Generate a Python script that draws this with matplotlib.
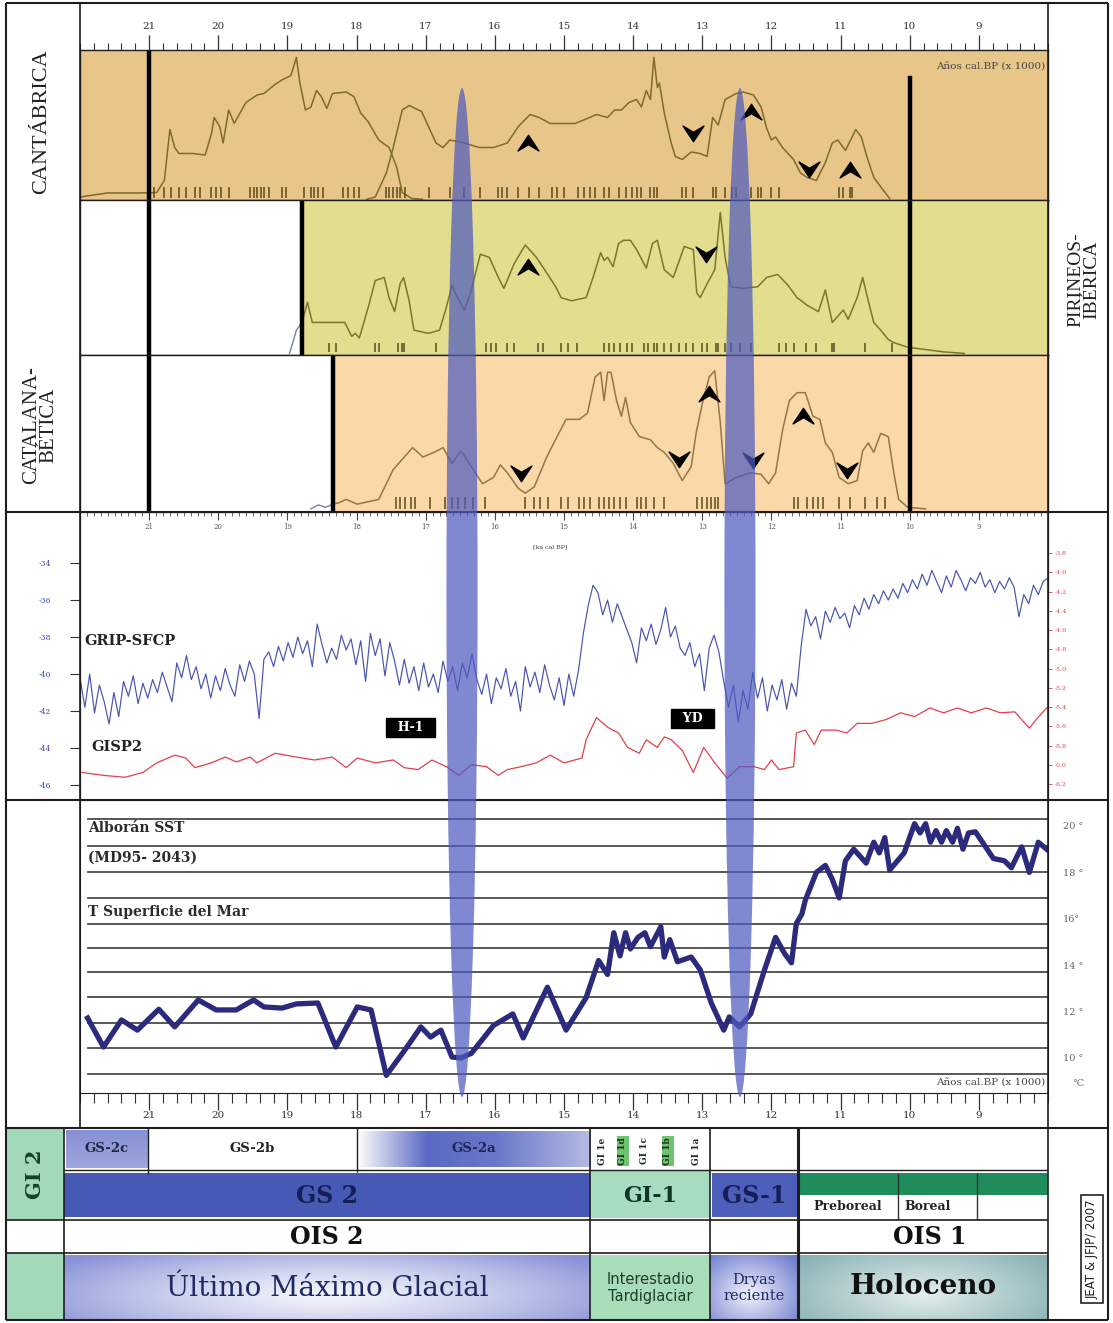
import numpy as np
import matplotlib
matplotlib.use("Agg")
import matplotlib.pyplot as plt
import matplotlib.transforms as mtransforms
from matplotlib.patches import Ellipse, Rectangle
from matplotlib.path import Path
from matplotlib.colors import to_rgb
from matplotlib.ticker import FixedLocator, MultipleLocator

# ---------------------------------------------------------------- data
age_ticks = list(range(9, 22))

# Cantábrica: two summed-probability curves (height as fraction of panel)
cant_a_ka = [22.0, 21.6, 21.15, 20.89, 20.78, 20.70, 20.63, 20.57, 20.37, 20.19,
             20.10, 20.06, 19.98, 19.93, 19.85, 19.77, 19.60, 19.44, 19.34, 19.18,
             19.08, 18.95, 18.87, 18.82, 18.74, 18.66, 18.58, 18.51, 18.43, 18.35,
             18.15, 18.04, 17.94, 17.83, 17.68, 17.53, 17.42, 17.34, 17.20, 17.05]
cant_a_h = [0.02, 0.047, 0.047, 0.05, 0.13, 0.47, 0.35, 0.31, 0.31, 0.30,
            0.44, 0.55, 0.49, 0.38, 0.60, 0.51, 0.65, 0.70, 0.71, 0.77,
            0.80, 0.83, 0.95, 0.78, 0.60, 0.62, 0.73, 0.69, 0.61, 0.71,
            0.72, 0.69, 0.58, 0.52, 0.40, 0.35, 0.22, 0.05, 0.01, 0.005]
cant_b_ka = [17.85, 17.73, 17.57, 17.47, 17.34, 17.24, 17.06,
             16.85, 16.75, 16.65, 16.44, 16.23, 16.02,
             15.82, 15.66, 15.49, 15.36, 15.20,
             14.84, 14.63, 14.53, 14.37, 14.27, 14.17, 14.06,
             13.95, 13.88, 13.81, 13.75, 13.70, 13.65, 13.62, 13.55, 13.45, 13.39, 13.29, 13.16, 13.03,
             12.93, 12.85, 12.77, 12.67, 12.59, 12.51, 12.41, 12.26, 12.15, 12.07, 12.00,
             11.94, 11.84, 11.68, 11.58, 11.48, 11.35, 11.22, 11.12, 11.04,
             10.93, 10.78, 10.70, 10.62, 10.52, 10.39, 10.29]
cant_b_h = [0.005, 0.02, 0.18, 0.35, 0.60, 0.63, 0.59,
            0.38, 0.35, 0.40, 0.38, 0.35, 0.35,
            0.38, 0.49, 0.57, 0.55, 0.51,
            0.51, 0.55, 0.57, 0.55, 0.60, 0.60, 0.65,
            0.67, 0.62, 0.73, 0.67, 0.95, 0.75, 0.78, 0.58, 0.38, 0.29, 0.27, 0.32, 0.31,
            0.29, 0.55, 0.50, 0.67, 0.69, 0.71, 0.72, 0.70, 0.62, 0.48, 0.40,
            0.42, 0.35, 0.27, 0.18, 0.15, 0.13, 0.25, 0.38, 0.40,
            0.33, 0.47, 0.42, 0.29, 0.15, 0.07, 0.01]
cant_dates = [20.93, 20.78, 20.68, 20.57, 20.47, 20.34, 20.26, 20.11, 20.03, 19.96,
              19.85, 19.54, 19.49, 19.44, 19.38, 19.34, 19.26, 19.08, 19.02, 18.76,
              18.66, 18.61, 18.56, 18.48, 18.20, 18.12, 18.04, 17.96, 17.57, 17.53,
              17.47, 17.42, 17.37, 17.30, 16.95, 16.65, 16.44, 16.21, 15.95, 15.89,
              15.82, 15.66, 15.51, 15.36, 15.17, 15.10, 15.00, 14.80, 14.71, 14.63,
              14.55, 14.42, 14.35, 14.21, 14.11, 14.01, 13.95, 13.88, 13.75, 13.70,
              13.65, 13.29, 13.23, 13.13, 12.85, 12.80, 12.67, 12.57, 12.51, 12.30,
              12.20, 12.15, 12.00, 11.89, 11.02, 10.96, 10.86, 10.83]
cant_up = ([15.52, 12.30, 10.86], [0.38, 0.59, 0.20])
cant_down = ([13.13, 11.46], [0.45, 0.21])

# Pirineos-Ibérica
pir_start = 18.79
pir_pre_ka = [18.97, 18.87, 18.79]
pir_pre_h = [0.01, 0.16, 0.21]
pir_ka = [18.79, 18.71, 18.64, 18.51, 18.30, 18.17, 18.07, 18.02, 17.96, 17.83,
          17.73, 17.60, 17.53, 17.45, 17.37, 17.32, 17.24, 17.17, 16.96, 16.80,
          16.70, 16.62, 16.54, 16.44, 16.34, 16.21, 16.08, 15.95, 15.87, 15.72,
          15.56, 15.40, 15.25, 15.12, 15.04, 14.89, 14.68, 14.58, 14.47, 14.42,
          14.37, 14.29, 14.21, 14.14, 14.04, 13.95, 13.81, 13.72, 13.65, 13.55,
          13.42, 13.26, 13.13, 13.08, 13.03, 12.93, 12.82, 12.74, 12.67, 12.59,
          12.41, 12.20, 12.07, 11.91, 11.76, 11.63, 11.48, 11.32, 11.22, 11.12,
          11.04, 10.96, 10.89, 10.76, 10.68, 10.60, 10.52, 10.42, 10.31, 10.23,
          10.03, 9.51, 9.21]
pir_h = [0.21, 0.34, 0.21, 0.21, 0.21, 0.21, 0.12, 0.14, 0.11, 0.31,
         0.48, 0.50, 0.37, 0.28, 0.46, 0.50, 0.35, 0.16, 0.14, 0.16,
         0.31, 0.45, 0.37, 0.29, 0.42, 0.65, 0.63, 0.50, 0.43, 0.59,
         0.71, 0.63, 0.53, 0.44, 0.37, 0.35, 0.37, 0.50, 0.66, 0.61,
         0.63, 0.57, 0.72, 0.74, 0.74, 0.68, 0.56, 0.72, 0.74, 0.55,
         0.50, 0.70, 0.68, 0.40, 0.37, 0.46, 0.55, 0.92, 0.63, 0.44,
         0.43, 0.44, 0.50, 0.52, 0.45, 0.37, 0.32, 0.28, 0.42, 0.21,
         0.25, 0.29, 0.23, 0.37, 0.50, 0.35, 0.21, 0.16, 0.10, 0.08,
         0.05, 0.02, 0.01]
pir_dates = [18.77, 18.40, 18.30, 17.73, 17.68, 17.40, 17.34, 17.32, 16.85, 16.13,
             16.05, 15.98, 15.82, 15.72, 15.38, 15.30, 15.04, 14.94, 14.81, 14.42,
             14.35, 14.27, 14.19, 14.09, 14.01, 13.85, 13.78, 13.70, 13.65, 13.55,
             13.45, 13.34, 13.23, 13.13, 13.00, 12.93, 12.80, 12.77, 12.67, 12.59,
             12.46, 12.30, 11.89, 11.79, 11.68, 11.50, 11.35, 11.12, 11.09, 10.65, 10.26]
pir_up = ([15.52], [0.57])
pir_down = ([12.95], [0.65])

# Catalana-Bética
cat_start = 18.34
cat_pre_ka = [18.66, 18.55, 18.45, 18.34]
cat_pre_h = [0.02, 0.045, 0.03, 0.05]
cat_ka = [18.34, 18.25, 18.15, 17.99, 17.68, 17.47, 17.19, 17.04, 16.88, 16.75,
          16.62, 16.49, 16.34, 16.18, 16.02, 15.92, 15.82, 15.66, 15.56, 15.43,
          15.25, 15.10, 14.97, 14.78, 14.66, 14.55, 14.47, 14.42, 14.37, 14.32,
          14.24, 14.17, 14.11, 14.04, 13.91, 13.75, 13.65, 13.55, 13.42, 13.29,
          13.16, 13.09, 13.00, 12.90, 12.82, 12.74, 12.67, 12.51, 12.30, 12.15,
          12.04, 11.94, 11.84, 11.74, 11.63, 11.51, 11.40, 11.30, 11.22, 11.12,
          11.02, 10.89, 10.76, 10.68, 10.60, 10.52, 10.42, 10.31, 10.23, 10.16,
          10.03, 9.77]
cat_h = [0.05, 0.06, 0.08, 0.05, 0.08, 0.27, 0.41, 0.35, 0.38, 0.41,
         0.31, 0.39, 0.29, 0.18, 0.22, 0.30, 0.25, 0.15, 0.12, 0.16,
         0.35, 0.48, 0.59, 0.59, 0.63, 0.86, 0.89, 0.71, 0.89, 0.89,
         0.71, 0.61, 0.73, 0.57, 0.48, 0.46, 0.41, 0.38, 0.31, 0.20,
         0.29, 0.50, 0.69, 0.86, 0.90, 0.57, 0.18, 0.22, 0.25, 0.24,
         0.18, 0.25, 0.52, 0.71, 0.76, 0.76, 0.61, 0.59, 0.44, 0.38,
         0.22, 0.18, 0.20, 0.39, 0.44, 0.38, 0.50, 0.48, 0.25, 0.08,
         0.03, 0.02]
cat_dates = [17.43, 17.37, 17.30, 17.22, 17.15, 16.94, 16.72, 16.62, 16.53, 16.43,
             16.31, 16.14, 15.56, 15.44, 15.34, 15.23, 15.04, 14.94, 14.78, 14.71,
             14.63, 14.50, 14.42, 14.35, 14.27, 14.19, 14.11, 13.95, 13.88, 13.81,
             13.70, 13.55, 13.08, 13.00, 12.93, 12.87, 12.82, 12.77, 11.68, 11.61,
             11.48, 11.40, 11.32, 11.25, 11.02, 10.86, 10.65, 10.47, 10.36]
cat_up = ([12.90, 11.55], [0.75, 0.61])
cat_down = ([15.62, 13.34, 12.27, 10.91], [0.25, 0.34, 0.33, 0.27])

# chronological limits of the regional series
limit_old = 21.0
limit_young = 10.0

# GRIP-SFCP (left axis, per mil) on a regular 70-yr grid
grip_ka = np.round(np.arange(22.0, 7.99, -0.07), 2)
grip_d18o = [
    -40.2, -41.8, -40.0, -42.1, -40.6, -41.5, -42.7, -41.0, -42.3, -40.4, -41.2, -40.1, -41.6, -40.5, -41.3,
    -40.3, -41.0, -39.9, -40.7, -41.5, -39.4, -40.2, -39.0, -40.3, -39.6, -40.8, -40.0, -41.3, -40.1,
    -40.9, -39.7, -40.6, -41.2, -39.5, -40.4, -39.3, -40.0, -42.4, -39.2, -38.8, -39.6, -38.5, -39.3,
    -38.3, -39.1, -38.0, -38.9, -38.2, -39.6, -37.3, -38.4, -39.4, -38.6, -39.2, -37.9, -38.7, -38.1,
    -39.5, -38.2, -40.4, -37.8, -39.0, -38.1, -40.1, -38.3, -39.3, -40.6, -39.2, -40.5, -39.6, -40.9,
    -39.4, -40.7, -40.0, -41.0, -39.3, -40.4, -39.6, -40.9, -39.4, -40.2, -38.9, -40.3, -41.1, -40.0,
    -41.6, -40.2, -40.8, -39.7, -41.2, -40.4, -42.0, -39.6, -40.7, -39.9, -41.0, -39.5, -40.6, -41.4,
    -40.2, -41.7, -40.0, -41.2, -39.8, -37.8, -36.3, -35.2, -35.6, -36.8, -36.0, -37.2, -36.2, -36.9,
    -37.6, -38.3, -39.4, -37.5, -38.2, -37.3, -38.4, -37.6, -36.4, -38.0, -37.4, -38.6, -39.0, -38.3,
    -39.6, -38.9, -40.9, -38.6, -37.9, -38.8, -40.4, -41.8, -40.6, -42.6, -40.9, -41.9, -39.9, -41.3,
    -40.2, -42.0, -40.6, -41.4, -40.3, -41.9, -40.5, -41.2, -38.5, -36.5, -37.4, -36.9, -38.1, -36.6,
    -37.2, -36.4, -37.0, -36.7, -37.5, -36.3, -36.8, -35.9, -36.5, -35.7, -36.2, -35.5, -36.0, -35.4,
    -35.9, -35.1, -35.6, -34.9, -35.4, -34.6, -35.2, -34.4, -35.0, -35.6, -34.7, -35.3, -34.4, -34.9,
    -35.5, -34.8, -35.1, -34.5, -35.3, -34.9, -35.6, -35.0, -35.4, -34.8, -35.3, -36.9, -35.7, -36.2,
    -35.2, -35.7, -35.0, -34.8]
grip_ticks = [-34, -36, -38, -40, -42, -44, -46]

# GISP2 (right axis)
gisp_ka = [21.97, 21.66, 21.35, 21.09, 20.89, 20.63, 20.47, 20.34, 20.10, 19.90,
           19.74, 19.54, 19.44, 19.18, 18.87, 18.61, 18.35, 18.15, 17.99, 17.73,
           17.47, 17.31, 17.11, 16.91, 16.70, 16.52, 16.34, 16.12, 15.95, 15.82,
           15.62, 15.40, 15.20, 15.00, 14.74, 14.68, 14.53, 14.37, 14.21, 14.08,
           13.91, 13.81, 13.65, 13.55, 13.45, 13.29, 13.13, 12.98, 12.82, 12.64,
           12.46, 12.25, 12.10, 12.00, 11.89, 11.68, 11.64, 11.51, 11.38, 11.28,
           11.06, 10.91, 10.76, 10.55, 10.34, 10.13, 9.93, 9.71, 9.51, 9.31,
           9.11, 8.89, 8.69, 8.48, 8.27, 8.17, 8.02]
gisp_val = [-6.08, -6.11, -6.13, -6.08, -5.98, -5.90, -5.93, -6.03, -5.98, -5.92,
            -5.97, -5.92, -5.98, -5.88, -5.92, -5.95, -5.92, -6.03, -5.93, -5.98,
            -5.95, -6.03, -6.05, -5.95, -6.02, -6.11, -6.00, -6.02, -6.11, -6.05,
            -6.02, -5.98, -5.90, -5.98, -5.93, -5.74, -5.51, -5.61, -5.67, -5.82,
            -5.88, -5.74, -5.82, -5.71, -5.74, -5.85, -6.08, -5.82, -5.98, -6.14,
            -6.02, -6.02, -6.05, -5.95, -6.05, -6.02, -5.67, -5.64, -5.79, -5.64,
            -5.64, -5.67, -5.57, -5.57, -5.53, -5.46, -5.50, -5.41, -5.46, -5.41,
            -5.46, -5.41, -5.46, -5.45, -5.62, -5.53, -5.41]
gisp_ticks = [-3.8, -4.0, -4.2, -4.4, -4.6, -4.8, -5.0, -5.2, -5.4, -5.6, -5.8, -6.0, -6.2]

# Alborán SST (MD95-2043), °C
sst_ka = [21.89, 21.66, 21.40, 21.17, 20.86, 20.63, 20.29, 20.03, 19.74, 19.49,
          19.34, 19.08, 18.87, 18.56, 18.30, 17.99, 17.79, 17.57, 17.30, 17.07,
          16.93, 16.78, 16.62, 16.49, 16.34, 16.02, 15.74, 15.59, 15.24, 14.97,
          14.68, 14.50, 14.37, 14.28, 14.19, 14.11, 14.04, 13.93, 13.83, 13.75,
          13.60, 13.55, 13.47, 13.36, 13.16, 13.03, 12.87, 12.69, 12.61, 12.46,
          12.30, 12.10, 11.94, 11.81, 11.71, 11.64, 11.56, 11.51, 11.35, 11.22,
          11.12, 11.02, 10.93, 10.81, 10.63, 10.52, 10.44, 10.36, 10.29, 10.08,
          9.93, 9.85, 9.77, 9.70, 9.62, 9.54, 9.47, 9.38, 9.31, 9.23,
          9.15, 9.05, 8.79, 8.63, 8.53, 8.38, 8.27, 8.14, 8.02]
sst_t = [11.72, 10.47, 11.64, 11.20, 12.10, 11.34, 12.50, 12.07, 12.07, 12.50,
         12.20, 12.15, 12.33, 12.37, 10.47, 12.20, 12.07, 9.25, 10.35, 11.34,
         10.90, 11.20, 10.04, 10.00, 10.20, 11.40, 11.90, 10.86, 13.05, 11.20,
         12.60, 14.20, 13.60, 15.40, 14.40, 15.40, 14.70, 15.20, 15.40, 14.80,
         15.65, 14.35, 15.10, 14.15, 14.35, 13.80, 12.37, 11.20, 11.77, 11.34,
         11.90, 13.80, 15.20, 14.50, 14.10, 15.80, 16.20, 16.80, 18.00, 18.30,
         17.70, 16.90, 18.50, 19.00, 18.40, 19.30, 18.84, 19.50, 18.10, 18.84,
         20.10, 19.70, 20.10, 19.30, 19.80, 19.30, 19.80, 19.30, 19.90, 19.00,
         19.70, 19.75, 18.60, 18.50, 18.20, 19.10, 18.00, 19.30, 19.00]
sst_label_vals = [20, 18, 16, 14, 12, 10]
sst_label_text = ["20 °", "18 °", "16°", "14 °", "12 °", "10 °"]
sst_rules = [20.30, 19.14, 18.02, 16.90, 15.78, 14.74, 13.71, 12.63, 11.51, 10.43, 9.31]

# cold events highlighted across all records
event_names = ["H-1", "YD"]
event_ka = [16.475, 12.455]
event_label_pos = [(17.22, -42.9), (13.14, -42.4)]

# event stratigraphy (ka cal BP boundaries)
gs2c = (22.2, 21.02)
gs2b = (21.02, 17.99)
gs2a = (17.99, 14.62)
gi1 = (14.62, 12.89)
gs1 = (12.89, 11.61)
holo = (11.61, 8.0)
preboreal = (11.61, 10.17)
boreal = (10.17, 9.03)
gi_sub_names = ["GI 1e", "GI 1d", "GI 1c", "GI 1b", "GI 1a"]
gi_sub_ka = [14.45, 14.15, 13.83, 13.50, 13.09]
gi_sub_marked = [False, True, False, True, False]

# ---------------------------------------------------------------- layout helpers
W, H = 1113, 1323
X0, X1 = 80, 1048
KA_OLD, KA_YOUNG = 22.0, 8.0
PX_PER_KA = (X1 - X0) / (KA_OLD - KA_YOUNG)


def rect(x0, y0, x1, y1):
    return [x0 / W, 1 - y1 / H, (x1 - x0) / W, (y1 - y0) / H]


def ka_at(px):
    return KA_OLD - (px - X0) / PX_PER_KA


plt.rcParams['font.family'] = ['DejaVu Serif']
fig = plt.figure(figsize=(W / 100, H / 100), dpi=100)
fig.patch.set_facecolor('white')

LINE = '#1e1e1e'
OLIVE = '#7d6c2c'
DATE_COL = '#5c4a1c'

up_path = Path([(0, 0.55), (0.7, -0.5), (0, -0.08), (-0.7, -0.5), (0, 0.55)],
               [Path.MOVETO, Path.LINETO, Path.LINETO, Path.LINETO, Path.CLOSEPOLY])
down_path = Path([(0, -0.55), (0.7, 0.5), (0, 0.08), (-0.7, 0.5), (0, -0.55)],
                 [Path.MOVETO, Path.LINETO, Path.LINETO, Path.LINETO, Path.CLOSEPOLY])


def base_panel(ax):
    ax.set_xlim(KA_OLD, KA_YOUNG)
    ax.set_ylim(0, 1)
    ax.set_yticks([])
    for s in ax.spines.values():
        s.set_color(LINE)
        s.set_linewidth(1.0)


def chevrons(ax, up, down):
    ax.plot(up[0], up[1], ls='none', marker=up_path, ms=15, color='black', zorder=5)
    ax.plot(down[0], down[1], ls='none', marker=down_path, ms=15, color='black', zorder=5)


# ---------------------------------------------------------------- Cantábrica
ax_c = fig.add_axes(rect(X0, 50, X1, 200))
base_panel(ax_c)
ax_c.set_facecolor('#e8c689')
ax_c.plot(cant_a_ka, cant_a_h, color=OLIVE, lw=1.1)
ax_c.plot(cant_b_ka, cant_b_h, color=OLIVE, lw=1.1)
ax_c.vlines(cant_dates, 0.015, 0.09, color=DATE_COL, lw=1.1)
chevrons(ax_c, cant_up, cant_down)
ax_c.axvline(limit_old, color='black', lw=3.2)
ax_c.axvline(limit_young, ymin=0, ymax=0.81, color='black', lw=3.2)
ax_c.xaxis.set_ticks_position('top')
ax_c.xaxis.set_major_locator(FixedLocator(age_ticks))
ax_c.xaxis.set_minor_locator(MultipleLocator(0.2))
ax_c.set_xticklabels([str(t) for t in age_ticks])
ax_c.tick_params(axis='x', which='major', direction='out', length=11, width=0.9,
                 labelsize=7.5, pad=3, colors='#333333')
ax_c.tick_params(axis='x', which='minor', direction='out', length=5, width=0.8, colors='#333333')
ax_c.text(0.997, 0.89, "Años cal.BP (x 1000)", transform=ax_c.transAxes, ha='right',
          va='center', fontsize=7.5, color='#444444')

# ---------------------------------------------------------------- Pirineos-Ibérica
ax_p = fig.add_axes(rect(X0, 200, X1, 355))
base_panel(ax_p)
ax_p.set_facecolor('white')
ax_p.axvspan(pir_start, KA_YOUNG, color='#e3dd8e', lw=0, zorder=0)
ax_p.plot(pir_pre_ka, pir_pre_h, color='#7283a8', lw=1.0)
ax_p.plot(pir_ka, pir_h, color='#7b7630', lw=1.1)
ax_p.vlines(pir_dates, 0.02, 0.08, color=DATE_COL, lw=1.1)
chevrons(ax_p, pir_up, pir_down)
for k in (limit_old, pir_start, limit_young):
    ax_p.axvline(k, color='black', lw=3.2)
ax_p.set_xticks([])

# ---------------------------------------------------------------- Catalana-Bética
ax_k = fig.add_axes(rect(X0, 355, X1, 512))
base_panel(ax_k)
ax_k.set_facecolor('white')
ax_k.axvspan(cat_start, KA_YOUNG, color='#fbd8a8', lw=0, zorder=0)
ax_k.plot(cat_pre_ka, cat_pre_h, color='#7283a8', lw=1.0)
ax_k.plot(cat_ka, cat_h, color='#94764a', lw=1.1)
ax_k.vlines(cat_dates, 0.02, 0.095, color=DATE_COL, lw=1.1)
chevrons(ax_k, cat_up, cat_down)
for k in (limit_old, cat_start, limit_young):
    ax_k.axvline(k, color='black', lw=3.2)
ax_k.set_xticks([])

# ---------------------------------------------------------------- GRIP / GISP2
ax_g = fig.add_axes(rect(X0, 512, X1, 800))
ax_g.set_xlim(KA_OLD, KA_YOUNG)
ax_g.set_ylim(-46.81, -31.24)
ax_g.plot(grip_ka, grip_d18o, color='#4753b0', lw=0.85)
ax_g.set_yticks(grip_ticks)
ax_g.set_yticklabels([str(v) for v in grip_ticks])
ax_g.tick_params(axis='y', direction='out', length=7, width=0.8, pad=14,
                 labelsize=5.5, labelcolor='#3a48a8', color='#333333')
ax_g.xaxis.set_ticks_position('top')
ax_g.xaxis.set_major_locator(FixedLocator(age_ticks))
ax_g.xaxis.set_minor_locator(MultipleLocator(0.1))
ax_g.set_xticklabels([str(t) for t in age_ticks])
ax_g.tick_params(axis='x', which='major', direction='in', length=6, width=0.8,
                 labelsize=5, pad=-14, labelcolor='#555555', color='#444444')
ax_g.tick_params(axis='x', which='minor', direction='in', length=3, width=0.6, color='#555555')
for s in ax_g.spines.values():
    s.set_color(LINE)
ax_g.text(15.2, -33.1, "[ka cal BP]", fontsize=4.5, color='#444444', ha='center', va='center')
ax_g.text(21.93, -38.2, "GRIP-SFCP", fontsize=10.5, fontweight='bold', color='#222222',
          ha='left', va='center')
ax_g.text(21.83, -43.95, "GISP2", fontsize=10.5, fontweight='bold', color='#222222',
          ha='left', va='center')
for name, (kx, ky) in zip(event_names, event_label_pos):
    ax_g.text(kx, ky, "  " + name + "  ", fontsize=9, fontweight='bold', color='white',
              ha='center', va='center',
              bbox=dict(boxstyle='square,pad=0.25', fc='black', ec='black'))

ax_r = ax_g.twinx()
ax_r.set_ylim(-6.366, -3.374)
ax_r.plot(gisp_ka, gisp_val, color='#e0404a', lw=0.9)
ax_r.set_yticks(gisp_ticks)
ax_r.set_yticklabels([f"{v:.1f}" for v in gisp_ticks])
ax_r.tick_params(axis='y', direction='out', length=3, width=0.6, pad=1.5,
                 labelsize=4.5, labelcolor='#e0404a', color='#d04050')
for s in ax_r.spines.values():
    s.set_color(LINE)
ax_g.set_xlim(KA_OLD, KA_YOUNG)

# ---------------------------------------------------------------- Alborán SST
ax_s = fig.add_axes(rect(X0, 800, X1, 1093))
ax_s.set_xlim(KA_OLD, KA_YOUNG)
ax_s.set_ylim(8.49, 21.12)
for lvl in sst_rules:
    ax_s.axhline(lvl, xmin=8 / (X1 - X0), xmax=1, color='#4a4a4a', lw=1.3, zorder=1)
ax_s.plot(sst_ka, sst_t, color='#2b2a7c', lw=3.8, solid_joinstyle='round', zorder=3)
ax_s.yaxis.tick_right()
ax_s.set_yticks(sst_label_vals)
ax_s.set_yticklabels(sst_label_text)
ax_s.tick_params(axis='y', length=0, pad=11, labelsize=7, labelcolor='#666666')
ax_s.xaxis.set_major_locator(FixedLocator(age_ticks))
ax_s.xaxis.set_minor_locator(MultipleLocator(0.2))
ax_s.set_xticklabels([str(t) for t in age_ticks])
ax_s.tick_params(axis='x', which='major', direction='out', length=12, width=0.9,
                 labelsize=7.5, pad=1, colors='#333333')
ax_s.tick_params(axis='x', which='minor', direction='out', length=7, width=0.8, colors='#333333')
for s in ax_s.spines.values():
    s.set_color(LINE)
blend = mtransforms.blended_transform_factory(ax_s.transAxes, ax_s.transData)
ax_s.text(1.025, 8.92, "°C", transform=blend, fontsize=7, color='#666666', va='center',
          ha='left')
ax_s.text(0.997, 0.035, "Años cal.BP (x 1000)", transform=ax_s.transAxes, ha='right',
          va='center', fontsize=7.5, color='#444444')
ax_s.text(21.88, 19.91, "Alborán SST", fontsize=10, fontweight='bold', color='#2a2a2a',
          ha='left', va='center')
ax_s.text(21.88, 18.62, "(MD95- 2043)", fontsize=10, fontweight='bold', color='#2a2a2a',
          ha='left', va='center')
ax_s.text(21.88, 16.29, "T Superficie del Mar", fontsize=10, fontweight='bold',
          color='#2a2a2a', ha='left', va='center')

# ---------------------------------------------------------------- stratigraphy table
TL = 64
ax_t = fig.add_axes(rect(TL, 1128, X1, 1320))
ax_t.axis('off')
tx0 = ka_at(TL)


def box(k0, k1, y0, y1, color):
    ax_t.add_patch(Rectangle((k0, y0), k1 - k0, y1 - y0, fc=color, ec='none', zorder=1))


gx, gy = np.meshgrid(np.linspace(0, 1, 200), np.linspace(0, 1, 60))


def radial(cx, cy, rx, ry):
    return np.clip(np.hypot((gx - cx) / rx, (gy - cy) / ry), 0, 1)


def shade(k0, k1, y0, y1, edge, center, weight):
    e = np.array(to_rgb(edge))
    c = np.array(to_rgb(center))
    img = c[None, None, :] * (1 - weight[..., None]) + e[None, None, :] * weight[..., None]
    ax_t.imshow(img, extent=[k0, k1, y1, y0], aspect='auto', interpolation='bilinear', zorder=1)


# row 1: sub-stadials
shade(gs2c[0], gs2c[1], 1130, 1168, '#8790d3', '#b7bde8', 1 - 0.5 * gy)
shade(gs2a[0], gs2a[1], 1131, 1167, '#5a69c3', '#ffffff',
      np.interp(gx, [0, 0.3, 0.6, 1], [0, 1, 0.9, 0.45]))
ax_t.text(np.mean(gs2c), 1149, "GS-2c", fontsize=9.5, fontweight='bold', color='#202840',
          ha='center', va='center')
ax_t.text(np.mean(gs2b), 1149, "GS-2b", fontsize=9.5, fontweight='bold', color='#222222',
          ha='center', va='center')
ax_t.text(np.mean(gs2a), 1149, "GS-2a", fontsize=9.5, fontweight='bold', color='#1c2458',
          ha='center', va='center')
for name, k, marked in zip(gi_sub_names, gi_sub_ka, gi_sub_marked):
    kw = dict(boxstyle='square,pad=0.15', fc='#6cc46c', ec='none') if marked else None
    ax_t.text(k, 1151, name, rotation=90, fontsize=6.5, fontweight='bold', color='#1f3020',
              ha='center', va='center', bbox=kw, zorder=3)

# row 2: stadials / interstadials
box(tx0, gs2a[1], 1173, 1217, '#4659b5')
box(gi1[0], gi1[1], 1170, 1218, '#a6dcc0')
box(gs1[0] - 0.03, gs1[1], 1173, 1217, '#4e5ebb')
box(holo[0], holo[1], 1173, 1195, '#1f8c5c')
ax_t.text((tx0 + gs2a[1]) / 2, 1196, "GS 2", fontsize=17, fontweight='bold',
          color='#151e55', ha='center', va='center')
ax_t.text(np.mean(gi1), 1196, "GI-1", fontsize=16, fontweight='bold', color='#0e3526',
          ha='center', va='center')
ax_t.text(np.mean(gs1), 1196, "GS-1", fontsize=17, fontweight='bold', color='#151e55',
          ha='center', va='center')
ax_t.text(np.mean(preboreal), 1207, "Preboreal", fontsize=9, fontweight='bold',
          color='#222222', ha='center', va='center')
ax_t.text(boreal[0] - 0.1, 1207, "Boreal", fontsize=9, fontweight='bold',
          color='#222222', ha='left', va='center')
ax_t.vlines([boreal[0], boreal[1]], 1173, 1220, color='#333333', lw=1.0, zorder=2)

# row 3: isotope stages
ax_t.text((tx0 + gs2a[1]) / 2, 1237, "OIS 2", fontsize=17, fontweight='bold',
          color='#111111', ha='center', va='center')
ax_t.text(np.mean(holo) - 0.1, 1237, "OIS 1", fontsize=17, fontweight='bold',
          color='#111111', ha='center', va='center')

# row 4: climatic periods
shade(tx0, gs2a[1], 1255, 1320, '#8791d6', '#f4f5fb', radial(0.5, 0.62, 0.62, 0.9) ** 1.3)
box(gi1[0], gi1[1], 1255, 1320, '#a8ddb9')
shade(gs1[0], gs1[1], 1255, 1320, '#6f7dcf', '#f2f3fb', radial(0.45, 0.6, 0.7, 0.8))
shade(holo[0], holo[1], 1255, 1320, '#84aeb0', '#e4eeee', radial(0.5, 0.6, 0.65, 0.95))
ax_t.text((tx0 + gs2a[1]) / 2, 1288, "Último Máximo Glacial", fontsize=20,
          color='#1e2a66', ha='center', va='center')
ax_t.text(np.mean(gi1), 1288, "Interestadio\nTardiglaciar", fontsize=10.5,
          family=['Liberation Sans Narrow', 'DejaVu Sans'], color='#1f3a2a',
          ha='center', va='center', linespacing=1.25)
ax_t.text(np.mean(gs1), 1288, "Dryas\nreciente", fontsize=10.5, color='#1e2a66',
          ha='center', va='center', linespacing=1.1)
ax_t.text(np.mean(holo), 1286, "Holoceno", fontsize=20, fontweight='bold',
          color='#111111', ha='center', va='center')

# table rules
ax_t.hlines([1170], tx0, KA_YOUNG, color=LINE, lw=1.0, zorder=2)
ax_t.vlines([gs2c[1]], 1128, 1174, color=LINE, lw=1.0, zorder=2)
ax_t.vlines([gs2b[1]], 1128, 1172, color=LINE, lw=1.0, zorder=2)
ax_t.vlines([gi1[0], gi1[1]], 1128, 1320, color=LINE, lw=1.2, zorder=2)
ax_t.vlines([gs1[1]], 1128, 1320, color=LINE, lw=2.2, zorder=2)
ax_t.set_xlim(tx0, KA_YOUNG)
ax_t.set_ylim(1320, 1128)

# ---------------------------------------------------------------- frame and side labels
ax_f = fig.add_axes([0, 0, 1, 1], zorder=15)
ax_f.set_xlim(0, W)
ax_f.set_ylim(H, 0)
ax_f.axis('off')


def seg(x0, y0, x1, y1, lw=1.2):
    ax_f.plot([x0, x1], [y0, y1], color=LINE, lw=lw, solid_capstyle='butt')


ax_f.add_patch(Rectangle((6, 1128), 58, 92, fc='#a2d9ba', ec='none'))
ax_f.add_patch(Rectangle((6, 1253), 58, 67, fc='#a2d9ba', ec='none'))
for (a, b, c, d) in [(6, 3, 1108, 3), (6, 1320, 1108, 1320), (6, 3, 6, 1320),
                     (1108, 3, 1108, 1320), (80, 3, 80, 1128), (1048, 3, 1048, 1320),
                     (6, 512, 1108, 512), (6, 800, 1108, 800), (6, 1128, 1108, 1128),
                     (64, 1128, 64, 1320), (6, 1220, 1048, 1220), (6, 1253, 1048, 1253)]:
    seg(a, b, c, d, lw=1.5 if (a == 6 and c == 1108) or a == c == 6 or a == c == 1108 else 1.2)

ax_f.text(42, 122, "CANTÁBRICA", rotation=90, fontsize=16, family='Liberation Serif',
          color='#222222', ha='center', va='center')
ax_f.text(40, 425, "CATALANA-\nBÉTICA", rotation=90, fontsize=15, family='Liberation Serif',
          color='#222222', ha='center', va='center', linespacing=0.9)
ax_f.text(1084, 280, "PIRINEOS-\nIBÉRICA", rotation=90, fontsize=14, family='Liberation Serif',
          color='#222222', ha='center', va='center', linespacing=0.9)
ax_f.text(35, 1174, "GI 2", rotation=90, fontsize=15, fontweight='bold', color='#14402c',
          ha='center', va='center')
ax_f.text(1092, 1249, "JEAT & JFJP/ 2007", rotation=90, fontsize=8.5, family='DejaVu Sans',
          color='#222222', ha='center', va='center',
          bbox=dict(boxstyle='square,pad=0.35', fc='white', ec='#222222', lw=1.2))

# ---------------------------------------------------------------- event bands
ax_e = fig.add_axes(rect(X0, 0, X1, H), zorder=20)
ax_e.set_xlim(KA_OLD, KA_YOUNG)
ax_e.set_ylim(H, 0)
ax_e.axis('off')
for k in event_ka:
    ax_e.add_patch(Ellipse((k, 592.5), width=0.45, height=1009, fc='#4e5bbf', ec='none',
                           alpha=0.72))

fig.savefig("out.png", dpi=100)
